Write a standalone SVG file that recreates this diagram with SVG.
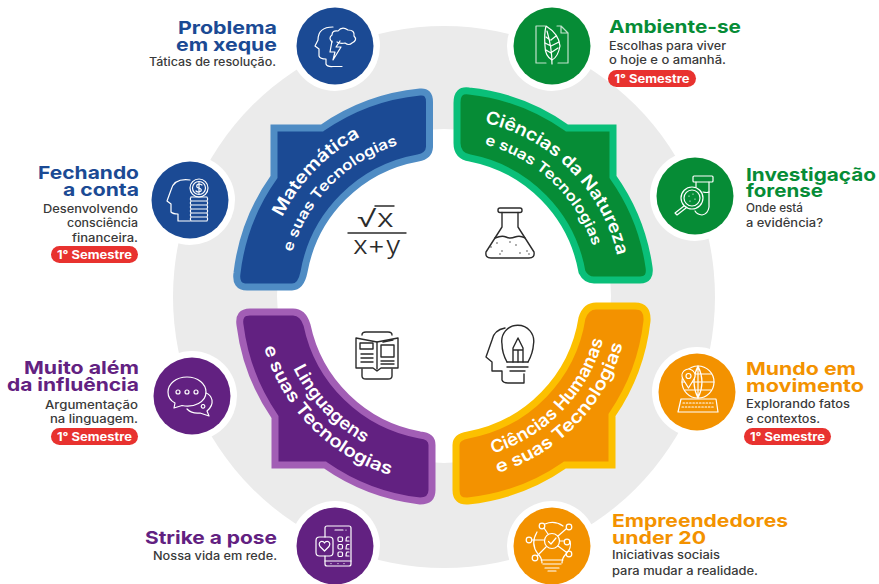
<svg xmlns="http://www.w3.org/2000/svg" width="879" height="584" viewBox="0 0 879 584">
<style>
text{font-family:"Inter","Liberation Sans",sans-serif}
.t{font-size:18px;font-weight:700}
.b{font-size:11.4px;font-weight:500;fill:#3a3a3a}
.e{text-anchor:end}
.bl{fill:#1b4a94}.gr{fill:#068c36}.pu{fill:#622181}.or{fill:#f39200}
.halo{fill:#fff}
.pill{fill:#e8322f}
.pt{font-size:11.5px;font-weight:700;fill:#fff;text-anchor:middle}
.a{stroke-width:7;stroke-linejoin:miter}
.c1{font-size:17.5px;font-weight:600;fill:#fff;text-anchor:middle}
.w,.w *{fill:none;stroke:#fff;stroke-width:1.2;stroke-linecap:round;stroke-linejoin:round}
.k,.k *{fill:none;stroke:#2b2b2b;stroke-width:1.4;stroke-linecap:round;stroke-linejoin:round}
</style>
<defs>
<path id="p1" d="M264 296A180 180 0 0 1 444 116"/>
<path id="p2" d="M286 296A158 158 0 0 1 444 138"/>
<path id="p3" d="M444 118A178 178 0 0 1 622 296"/>
<path id="p4" d="M444 139A157 157 0 0 1 601 296"/>
<path id="p5" d="M277 296A167 167 0 0 0 444 463"/>
<path id="p6" d="M257 296A187 187 0 0 0 444 483"/>
<path id="p7" d="M444 461A165 165 0 0 0 609 296"/>
<path id="p8" d="M444 481A185 185 0 0 0 629 296"/>
</defs>
<rect width="879" height="584" fill="#fff"/>
<g id="ring">
<circle cx="444" cy="297" r="271" fill="#ebebeb"/>
<circle cx="444" cy="296" r="167" fill="#fff"/>
</g>
<g id="connectors"></g>

<g id="area-matematica">
<path class="a bl" stroke="#4f8cc4" d="M274 128H322A207 207 0 0 1 420 92Q429.500 91 429.500 102V147Q429 156 418 158A141 141 0 0 0 304 272Q301 287 292 287H247Q235 287 237 273A207 207 0 0 1 274 177Z"/>
<text class="c1"><textPath href="#p1" startOffset="49%" textLength="114" lengthAdjust="spacingAndGlyphs">Matemática</textPath></text>
<text class="c1" style="font-size:14.500px"><textPath href="#p2" startOffset="49.500%" textLength="157" lengthAdjust="spacingAndGlyphs">e suas Tecnologias</textPath></text>
</g>
<g id="area-natureza">
<path class="a gr" stroke="#0abf79" d="M613 128H567A207 207 0 0 0 469 91Q457 89 457 103V143Q457 156 470 158A141 141 0 0 1 582 272Q586 280 594 280H640Q651 280 649 267A207 207 0 0 0 613 177Z"/>
<text class="c1"><textPath href="#p3" startOffset="50%" textLength="198" lengthAdjust="spacingAndGlyphs">Ciências da Natureza</textPath></text>
<text class="c1" style="font-size:14.500px"><textPath href="#p4" startOffset="48%" textLength="155" lengthAdjust="spacingAndGlyphs">e suas Tecnologias</textPath></text>
</g>
<g id="area-linguagens">
<path class="a pu" stroke="#a25eb5" d="M275 465H325A207 207 0 0 0 420 501Q432 501 432 490V445Q432 436 420 435A141 141 0 0 1 307 325Q303 312 293 312H250Q238 312 240 325A207 207 0 0 0 275 417Z"/>
<text class="c1"><textPath href="#p5" startOffset="48.500%" textLength="105" lengthAdjust="spacingAndGlyphs">Linguagens</textPath></text>
<text class="c1"><textPath href="#p6" startOffset="49.500%" textLength="187" lengthAdjust="spacingAndGlyphs">e suas Tecnologias</textPath></text>
</g>
<g id="area-humanas">
<path class="a or" stroke="#fcc000" d="M612 465H565A207 207 0 0 1 468 501Q456 502 456 490V445Q456 437 468 435A141 141 0 0 0 582 318Q586 306 596 306H635Q648 306 647 321A207 207 0 0 1 612 415Z"/>
<text class="c1"><textPath href="#p7" startOffset="51%" textLength="165" lengthAdjust="spacingAndGlyphs">Ciências Humanas</textPath></text>
<text class="c1"><textPath href="#p8" startOffset="51%" textLength="187" lengthAdjust="spacingAndGlyphs">e suas Tecnologias</textPath></text>
</g>

<g id="icon-formula">
<text x="357" y="227" style="font-size:25px;font-weight:300;fill:#2b2b2b" textLength="37" lengthAdjust="spacingAndGlyphs">√x</text>
<path class="k" d="M348 233H406M375 206H394"/>
<text x="353" y="254" style="font-size:25px;font-weight:300;fill:#2b2b2b" textLength="48" lengthAdjust="spacingAndGlyphs">x+y</text>
</g>
<g id="icon-flask" class="k">
<rect x="498" y="208" width="24" height="4.500" rx="2"/>
<path d="M502 212.500V227L486 252Q485 258 491 258H529Q535 258 534 252L518 227V212.500"/>
<path d="M495 238Q502 235 506 237T515 237T525 238"/>
<path d="M491 247v.1M497 243v.1M502 251v.1M510 242v.1M516 245v.1M520 253v.1M527 251v.1M500 254v.1M529 254v.1"/>
</g>
<g id="icon-book" class="k">
<path d="M362 335Q362 332 366 332H388Q392 332 392 335M362 369V376Q362 379 366 379H388Q392 379 392 376V369"/>
<path d="M356 338L377 342L398 338V368H381L377 371L373 368H356Z"/>
<path d="M377 342V369"/>
<rect x="360" y="343" width="13" height="6"/><rect x="381" y="345" width="13" height="12"/>
<path d="M361 354H373M361 358H373M361 362H373M381 361H394M381 364H394M383 342L393 340"/>
</g>
<g id="icon-head-bulb" class="k">
<path d="M505 328Q494 330 492 340L486 357L492 362V371H502V380Q503 383 508 383H524V374"/>
<path d="M507 362Q502 353 502 344A16 16 0 1 1 533.500 344Q533 353 528 362"/>
<path d="M507 362H528M507 367H528M510 371H525"/>
<path d="M513 362V348L518 338L523 348V362M513 350H523M518 350V362"/>
</g>

<g id="node-problema">
<circle class="halo" cx="335" cy="46" r="45"/><circle class="bl" cx="335" cy="46" r="38.500"/>
<g class="w">
<path d="M333 27Q318 27 318 40L315 46L319 49V56Q320 59 326 59V64Q327 67 333 66.500H342"/>
<path d="M332 42Q328 38 332 35Q332 30 338 31Q342 26 348 30Q355 30 354 36Q358 40 352 43Q349 46 345 43Q340 44 337 42"/>
<path d="M332 41L330 52H335L333 60L341 47H336L340 41"/>
</g>
<text class="t bl e" x="277" y="34" textLength="99" lengthAdjust="spacingAndGlyphs">Problema</text>
<text class="t bl e" x="277" y="51" textLength="101" lengthAdjust="spacingAndGlyphs">em xeque</text>
<text class="b e" x="276" y="66" textLength="127" lengthAdjust="spacingAndGlyphs">Táticas de resolução.</text>
</g>

<g id="node-ambiente">
<circle class="halo" cx="552" cy="46" r="45"/><circle class="gr" cx="552" cy="46" r="38.500"/>
<g class="w">
<path d="M545 26H536V63H546M558 63H568V33L561 26H557M561 26V33H568" opacity=".75"/>
<path d="M546 26Q559 34 560 46Q558 57 552 60Q545 56 545 46Q544 34 546 26Z"/>
<path d="M547 31Q552 48 552 64M551 40L556 36M551 46L559 42M552 52L558 48M550 40L546 37M551 46L545 43M551 53L546 50"/>
</g>
<text class="t gr" x="609" y="33" textLength="132" lengthAdjust="spacingAndGlyphs">Ambiente-se</text>
<text class="b" x="609" y="50" textLength="117" lengthAdjust="spacingAndGlyphs">Escolhas para viver</text>
<text class="b" x="609" y="64" textLength="117" lengthAdjust="spacingAndGlyphs">o hoje e o amanhã.</text>
<rect class="pill" x="608" y="70" width="88" height="17" rx="8.500"/>
<text class="pt" x="652" y="83" textLength="75" lengthAdjust="spacingAndGlyphs">1° Semestre</text>
</g>

<g id="node-investigacao">
<circle class="halo" cx="695" cy="196" r="45"/><circle class="gr" cx="695" cy="196" r="38.500"/>
<g class="w">
<rect x="693" y="176" width="20" height="6" rx="1"/>
<path d="M696 182V187M709 182V207Q708 214 702 215Q697 214.500 695 211"/>
<path d="M703 192Q707 193 709 192"/>
<circle cx="692" cy="198" r="11"/><circle cx="692" cy="198" r="8"/>
<path d="M684 206L675 213L677 215L686 208"/>
<path d="M689 196v.1M693 194v.1M695 199v.1M690 201v.1"/>
</g>
<text class="t gr" x="746" y="181" textLength="130" lengthAdjust="spacingAndGlyphs">Investigação</text>
<text class="t gr" x="746" y="197" textLength="77" lengthAdjust="spacingAndGlyphs">forense</text>
<text class="b" x="746" y="212" textLength="57" lengthAdjust="spacingAndGlyphs">Onde está</text>
<text class="b" x="746" y="227" textLength="77" lengthAdjust="spacingAndGlyphs">a evidência?</text>
</g>

<g id="node-fechando">
<circle class="halo" cx="190" cy="200" r="45"/><circle class="bl" cx="190" cy="200" r="38.500"/>
<g class="w">
<path d="M190 180Q174 178 171 190L167 201L171 204V212Q173 214 178 214V221H190"/>
<circle cx="199" cy="188" r="9"/><circle cx="199" cy="188" r="6.500"/>
<path d="M202 185Q199 183 197 185Q196 188 199 188Q202 189 201 191Q198 193 196 191M199 182.500V193.500"/>
<path d="M191 197H207Q208.500 199 207 201H191Q189.500 199 191 197M191 201Q189.500 203 191 205H207Q208.500 203 207 201M191 205Q189.500 207 191 209H207Q208.500 207 207 205M191 209Q189.500 211 191 213H207Q208.500 211 207 209M191 213Q189.500 215 191 217H207Q208.500 215 207 213M191 217Q189.500 219 191 221H207Q208.500 219 207 217"/>
</g>
<text class="t bl e" x="139" y="179" textLength="101" lengthAdjust="spacingAndGlyphs">Fechando</text>
<text class="t bl e" x="139" y="196" textLength="76" lengthAdjust="spacingAndGlyphs">a conta</text>
<text class="b e" x="138" y="213" textLength="95" lengthAdjust="spacingAndGlyphs">Desenvolvendo</text>
<text class="b e" x="138" y="227" textLength="71" lengthAdjust="spacingAndGlyphs">consciência</text>
<text class="b e" x="138" y="242" textLength="66" lengthAdjust="spacingAndGlyphs">financeira.</text>
<rect class="pill" x="51" y="246" width="87" height="17" rx="8.500"/>
<text class="pt" x="94.500" y="259" textLength="75" lengthAdjust="spacingAndGlyphs">1° Semestre</text>
</g>

<g id="node-influencia">
<circle class="halo" cx="192" cy="396" r="45"/><circle class="pu" cx="192" cy="396" r="38.500"/>
<g class="w">
<path d="M187 377C176 377 168 384 168 392C168 397 171 401 175 403L174 408L182 405.500C194 408 206 402 206 392C206 384 198 377 187 377Z"/>
<circle cx="178" cy="392" r="2"/><circle cx="187" cy="392" r="2"/><circle cx="196" cy="392" r="2"/>
<path d="M187 409Q192 414 200 413L209 416L207 411Q213 406 212 400Q211 395 206 393"/>
<path d="M203 404.500a1.800 1.800 0 1 0 .1 0"/>
</g>
<text class="t pu e" x="139" y="374" textLength="115" lengthAdjust="spacingAndGlyphs">Muito além</text>
<text class="t pu e" x="139" y="391" textLength="132" lengthAdjust="spacingAndGlyphs">da influência</text>
<text class="b e" x="138" y="409" textLength="93" lengthAdjust="spacingAndGlyphs">Argumentação</text>
<text class="b e" x="138" y="423" textLength="88" lengthAdjust="spacingAndGlyphs">na linguagem.</text>
<rect class="pill" x="51" y="428" width="87" height="17" rx="8.500"/>
<text class="pt" x="94.500" y="441" textLength="75" lengthAdjust="spacingAndGlyphs">1° Semestre</text>
</g>

<g id="node-movimento">
<circle class="halo" cx="697" cy="392" r="45"/><circle class="or" cx="697" cy="392" r="38.500"/>
<g class="w">
<circle cx="698" cy="382" r="16"/>
<path d="M698 366Q690 382 698 398Q706 382 698 366M682 382H714M685 374H711M685 390H711M698 366V398"/>
<path d="M688.500 388L683 379A6.500 6.500 0 1 1 694 379Z" style="fill:#f39200"/>
<circle cx="688.500" cy="376" r="2.500"/>
<path d="M681 399H716L718 412H678Z" style="fill:#f39200"/>
<path d="M683 403H713M682 407H714" stroke-dasharray="1.500 1.800"/>
</g>
<text class="t or" x="746" y="375" textLength="110" lengthAdjust="spacingAndGlyphs">Mundo em</text>
<text class="t or" x="746" y="392" textLength="118" lengthAdjust="spacingAndGlyphs">movimento</text>
<text class="b" x="746" y="408" textLength="104" lengthAdjust="spacingAndGlyphs">Explorando fatos</text>
<text class="b" x="746" y="423" textLength="74" lengthAdjust="spacingAndGlyphs">e contextos.</text>
<rect class="pill" x="744" y="428" width="87" height="17" rx="8.500"/>
<text class="pt" x="787.500" y="441" textLength="75" lengthAdjust="spacingAndGlyphs">1° Semestre</text>
</g>

<g id="node-strike">
<circle class="halo" cx="335" cy="546" r="45"/><circle class="pu" cx="335" cy="546" r="38.500"/>
<g class="w">
<path d="M325 537V528Q325 526 327 526H349Q351 526 351 528V564Q351 566 349 566H327Q325 566 325 564V556"/>
<path d="M325 561H351M335 530H343M346 530v.1M331 563.500v.1M338 563.500v.1M344 563.500v.1"/>
<rect x="316" y="537" width="17" height="19" rx="3.500"/>
<path d="M324.500 551L320 546.500Q318 543 321 541.500Q323.500 541 324.500 543Q325.500 541 328 541.500Q331 543 329 546.500Z"/>
<rect x="338" y="537" width="4.500" height="4.500" rx="1.200"/><rect x="338" y="544.500" width="4.500" height="4.500" rx="1.200"/><rect x="338" y="552" width="4.500" height="4.500" rx="1.200"/>
<path d="M349 537H347Q346 538 346 541H349M349 544.500H347Q346 546 346 549H349M349 552H347Q346 553 346 556H349"/>
</g>
<text class="t pu e" x="277" y="544" textLength="132" lengthAdjust="spacingAndGlyphs">Strike a pose</text>
<text class="b e" x="277" y="560" textLength="124" lengthAdjust="spacingAndGlyphs">Nossa vida em rede.</text>
</g>

<g id="node-empreendedores">
<circle class="halo" cx="552" cy="546" r="45"/><circle class="or" cx="552" cy="546" r="38.500"/>
<g class="w">
<path d="M545 524A19 19 0 0 1 563 526M537 532Q530 544 538 554Q542 558 542 563M562 563Q562 558 566 554Q572 548 570 541"/>
<circle cx="552" cy="541" r="7.500"/>
<path d="M548.500 541.500L551 544L556 538"/>
<circle cx="542" cy="526" r="2.800"/><circle cx="569" cy="527" r="2.800"/><circle cx="529" cy="540" r="2.800"/><circle cx="567" cy="542" r="2.800"/><circle cx="535" cy="558" r="2.800"/><circle cx="569" cy="554" r="2.800"/>
<path d="M544 528L548 534M566 529L558 536M532 540H544M560 541H564M537 556L546 547M566 552L558 546"/>
<path d="M541 560H563M543 564H561M545 568H559M548 571H556"/>
</g>
<text class="t or" x="612" y="527" textLength="176" lengthAdjust="spacingAndGlyphs">Empreendedores</text>
<text class="t or" x="612" y="544" textLength="94" lengthAdjust="spacingAndGlyphs">under 20</text>
<text class="b" x="612" y="559" textLength="108" lengthAdjust="spacingAndGlyphs">Iniciativas sociais</text>
<text class="b" x="612" y="575" textLength="146" lengthAdjust="spacingAndGlyphs">para mudar a realidade.</text>
</g>
</svg>
